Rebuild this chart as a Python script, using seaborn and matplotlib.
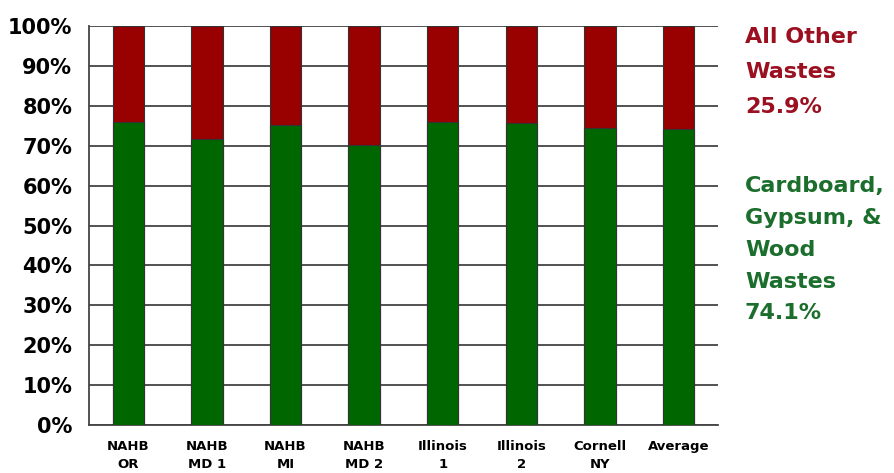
import matplotlib
matplotlib.use("Agg")
import matplotlib.pyplot as plt
import seaborn as sns
import pandas as pd
import numpy as np

categories = ["NAHB\nOR", "NAHB\nMD 1", "NAHB\nMI", "NAHB\nMD 2", "Illinois\n1", "Illinois\n2", "Cornell\nNY", "Average"]
green_share = [75.9, 71.8, 75.1, 70.2, 75.9, 75.6, 74.4, 74.1]
total_share = [100, 100, 100, 100, 100, 100, 100, 100]
ytick_values = [0, 10, 20, 30, 40, 50, 60, 70, 80, 90, 100]
ytick_labels = ["0%", "10%", "20%", "30%", "40%", "50%", "60%", "70%", "80%", "90%", "100%"]
red_label = "All Other\nWastes\n25.9%"
green_label = "Cardboard,\nGypsum, &\nWood\nWastes\n74.1%"

df = pd.DataFrame({"cat": categories, "green": green_share, "total": total_share})

sns.set_style("white")
plt.rcParams["font.family"] = ["DejaVu Sans"]

fig = plt.figure(figsize=(8.95, 4.73), dpi=100)
ax = fig.add_axes([0.0994, 0.1015, 0.7026, 0.8435])

sns.barplot(data=df, x="cat", y="total", color="#990000", width=0.4,
            edgecolor="#333333", linewidth=0.8, ax=ax, saturation=1, zorder=3)
sns.barplot(data=df, x="cat", y="green", color="#006600", width=0.4,
            edgecolor="#333333", linewidth=0.8, ax=ax, saturation=1, zorder=4)

ax.set_ylim(0, 100)
ax.set_xlim(-0.5, len(categories) - 0.5)
ax.set_yticks(ytick_values)
ax.set_yticklabels(ytick_labels, fontsize=15, fontweight="bold", color="black")
ax.yaxis.grid(True, color="#444444", linewidth=1.3, zorder=0)
ax.set_axisbelow(True)
ax.set_xlabel("")
ax.set_ylabel("")
ax.set_xticks(range(len(categories)))
ax.set_xticklabels(categories, fontsize=9.5, fontweight="bold", linespacing=1.5, color="black")
ax.tick_params(axis="x", which="major", length=0, pad=11)
ax.set_xticks(np.arange(-0.5, len(categories), 1.0), minor=True)
ax.tick_params(axis="x", which="minor", length=5, width=1, color="#444444", direction="out")
ax.tick_params(axis="y", length=6, width=1.3, color="#444444", direction="out", pad=6)

for s in ["top", "right"]:
    ax.spines[s].set_visible(False)
for s in ["left", "bottom"]:
    ax.spines[s].set_color("#444444")
    ax.spines[s].set_linewidth(1.3)

fig.text(745 / 895, 1 - 27 / 473, red_label, color="#9a1020", fontsize=16,
         fontweight="bold", va="top", ha="left", linespacing=1.95)
fig.text(745 / 895, 1 - 176 / 473, green_label, color="#1b6e2c", fontsize=16,
         fontweight="bold", va="top", ha="left", linespacing=1.74)

fig.savefig("out.png", dpi=100)
